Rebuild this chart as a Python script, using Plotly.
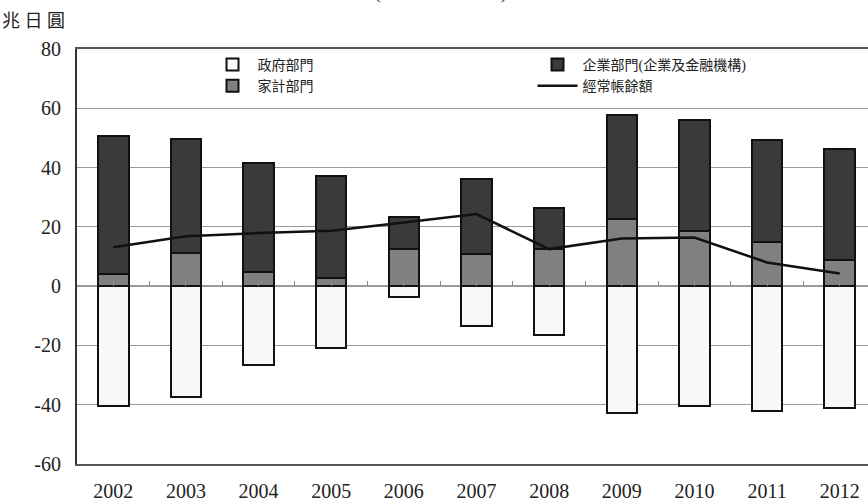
import plotly.graph_objects as go

# Sector savings-investment balance, Japan (trillion yen)
years = ["2002", "2003", "2004", "2005", "2006", "2007", "2008", "2009", "2010", "2011", "2012"]
government = [-40.3, -37.3, -26.5, -21.0, -3.5, -13.4, -16.5, -42.9, -40.4, -42.0, -41.1]
household = [4.0, 11.1, 4.8, 2.6, 12.5, 10.8, 12.5, 22.8, 18.7, 15.0, 8.8]
corporate = [46.7, 38.5, 36.7, 34.6, 10.9, 25.3, 13.8, 35.0, 37.4, 34.4, 37.4]
current_account = [13.1, 16.8, 17.9, 18.7, 21.5, 24.3, 12.5, 16.1, 16.4, 8.0, 4.3]
y_ticks = [-60, -40, -20, 0, 20, 40, 60, 80]

x = list(range(len(years)))
serif = "Liberation Serif, Noto Sans CJK TC, serif"
bar_w = 0.42

fig = go.Figure()
fig.add_trace(go.Bar(
    x=x, y=government, name="政府部門", width=bar_w, legendrank=1,
    marker=dict(color="#f8f8f8", line=dict(color="#111111", width=2)),
))
fig.add_trace(go.Bar(
    x=x, y=household, name="家計部門", width=bar_w, legendrank=3,
    marker=dict(color="#808080", line=dict(color="#111111", width=2)),
))
fig.add_trace(go.Bar(
    x=x, y=corporate, name="企業部門(企業及金融機構)", width=bar_w, legendrank=2,
    marker=dict(color="#3a3a3a", line=dict(color="#111111", width=2)),
))
fig.add_trace(go.Scatter(
    x=x, y=current_account, name="經常帳餘額", mode="lines", legendrank=4,
    line=dict(color="#111111", width=2.5),
))

# small tick marks along the zero line, at bar centres and between bars
fig.add_trace(go.Scatter(x=[0], y=[None], xaxis="x2", showlegend=False, hoverinfo="skip"))

fig.update_layout(
    width=868, height=504,
    margin=dict(l=77, r=0, t=49, b=40),
    paper_bgcolor="white", plot_bgcolor="white",
    barmode="relative", bargap=0,
    font=dict(family=serif, color="#222222"),
    legend=dict(
        orientation="h", traceorder="normal",
        x=0.165, y=1.0, xanchor="left", yanchor="top",
        entrywidth=270, entrywidthmode="pixels",
        itemwidth=40, tracegroupgap=0,
        font=dict(size=14, family=serif, color="#222222"),
        bgcolor="rgba(0,0,0,0)",
    ),
    xaxis=dict(
        range=[-0.5, 10.39],
        tickmode="array", tickvals=x, ticktext=years,
        tickfont=dict(size=20, family=serif, color="#222222"),
        showgrid=False, zeroline=False,
        showline=True, linecolor="#555555", linewidth=2, mirror=True,
        ticks="", ticklen=0, ticklabelstandoff=8,
    ),
    xaxis2=dict(
        overlaying="x", anchor="free", position=60 / 140, side="bottom",
        range=[-0.5, 10.39], tickmode="linear", tick0=0, dtick=0.5,
        ticks="inside", ticklen=5, tickcolor="#888888", tickwidth=1,
        showticklabels=False, showgrid=False, zeroline=False, showline=False,
    ),
    yaxis=dict(
        range=[-60, 80], tickmode="array", tickvals=y_ticks,
        ticktext=[str(v) for v in y_ticks],
        tickfont=dict(size=20, family=serif, color="#222222"),
        showgrid=True, gridcolor="#9a9a9a", gridwidth=1,
        zeroline=True, zerolinecolor="#9a9a9a", zerolinewidth=1.5,
        showline=True, linecolor="#333333", linewidth=2,
        ticks="", ticklabelstandoff=10,
    ),
    annotations=[
        dict(text="兆 日 圓", xref="paper", yref="paper", x=-0.097, y=1, xanchor="left",
             yanchor="bottom", yshift=16, showarrow=False,
             font=dict(size=18, family=serif, color="#222222")),
        dict(text="(2002～2012年)", xref="paper", yref="paper", x=0.46, y=1,
             xanchor="center", yanchor="bottom", yshift=44, showarrow=False,
             font=dict(size=20, family=serif, color="#444444")),
    ],
)

fig.write_html("out.html")
